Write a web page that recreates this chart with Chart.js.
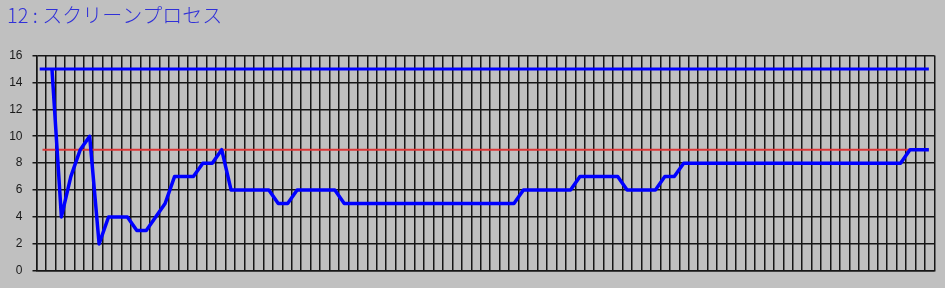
<!DOCTYPE html>
<html>
<head>
<meta charset="utf-8">
<script src="https://cdn.jsdelivr.net/npm/chart.js@4/dist/chart.umd.min.js"></script>
<style>
    html, body { margin: 0; padding: 0; background: #c0c0c0; }
    #canvas { width: 945px; height: 288px; }
</style>
</head>
<body>
<div id="canvas"><canvas id="myChart"></canvas></div>
<script>
const chartTitle = '12 : スクリーンプロセス';
const yTicks = [0, 2, 4, 6, 8, 10, 12, 14, 16];

// process count per sample
const processCount = [
    15, 4, 7, 9, 10, 2, 4, 4, 4, 3,
    3, 4, 5, 7, 7, 7, 8, 8, 9, 6,
    6, 6, 6, 6, 5, 5, 6, 6, 6, 6,
    6, 5, 5, 5, 5, 5, 5, 5, 5, 5,
    5, 5, 5, 5, 5, 5, 5, 5, 5, 5,
    6, 6, 6, 6, 6, 6, 7, 7, 7, 7,
    7, 6, 6, 6, 6, 7, 7, 8, 8, 8,
    8, 8, 8, 8, 8, 8, 8, 8, 8, 8,
    8, 8, 8, 8, 8, 8, 8, 8, 8, 8,
    8, 9, 9, 9
];
const samples = processCount.map((v, i) => i);

const maxLevel = 15;
const maxLineX = [-1.3, 93];
const limitLevel = 9;
const limitLineX = [-1, 93];

const gridColor = '#161616';
const xMin = -1.64;
const xMax = 93.6;
const gridSteps = 95;

const ctx = document.getElementById('myChart');
new Chart(ctx, {
    type: 'line',
    data: {
        labels: samples,
        datasets: [{
            data: processCount,
            borderColor: '#0000ff',
            borderWidth: 3.5,
            borderJoinStyle: 'round',
            pointRadius: 0,
            tension: 0
        }, {
            data: maxLineX.map(x => ({ x: x, y: maxLevel })),
            borderColor: '#0000ff',
            borderWidth: 3,
            pointRadius: 0
        }, {
            data: limitLineX.map(x => ({ x: x, y: limitLevel })),
            borderColor: '#dc3838',
            borderWidth: 2,
            pointRadius: 0
        }]
    },
    options: {
        responsive: true,
        maintainAspectRatio: false,
        animation: false,
        layout: { padding: { left: 7, right: 10.5, top: 0, bottom: 0 } },
        plugins: {
            legend: { display: false },
            tooltip: { enabled: false },
            title: {
                display: true,
                text: chartTitle,
                align: 'start',
                color: '#3030d8',
                font: { family: "'Noto Sans CJK JP', sans-serif", size: 20, weight: 300, lineHeight: 1.2 },
                padding: { top: 3, bottom: 28.5 }
            }
        },
        scales: {
            x: {
                type: 'linear',
                min: xMin,
                max: xMax,
                afterBuildTicks: scale => {
                    let ticks = [];
                    for (let k = 0; k <= gridSteps; k++) {
                        ticks.push({ value: xMin + k * (xMax - xMin) / gridSteps });
                    }
                    scale.ticks = ticks;
                },
                afterFit: scale => { scale.height = 15.5; },
                ticks: { display: false },
                grid: { color: gridColor, lineWidth: 1.5, drawTicks: false },
                border: { color: gridColor, width: 1.5 }
            },
            y: {
                min: 0,
                max: 16,
                afterBuildTicks: scale => {
                    scale.ticks = yTicks.map(v => ({ value: v }));
                },
                afterFit: scale => { scale.width = 29.5; },
                ticks: {
                    color: '#1a1a1a',
                    padding: 10,
                    font: { family: "'Liberation Sans', sans-serif", size: 12 }
                },
                grid: { color: gridColor, lineWidth: 1.5, tickLength: 4 },
                border: { color: gridColor, width: 1.5 }
            }
        }
    }
});
</script>
</body>
</html>
